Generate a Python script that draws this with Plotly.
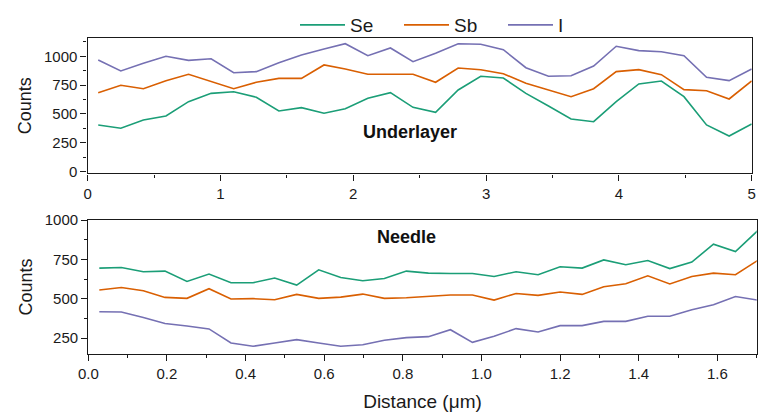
import plotly.graph_objects as go

# ---- data ----
top_x = [0.08, 0.25, 0.42, 0.59, 0.76, 0.93, 1.10, 1.27, 1.44, 1.61, 1.78, 1.94, 2.11, 2.28, 2.45,
         2.62, 2.79, 2.96, 3.13, 3.30, 3.47, 3.64, 3.81, 3.98, 4.15, 4.32, 4.49, 4.66, 4.83, 5.00]
top_se = [405, 376, 448, 483, 607, 679, 693, 645, 526, 555, 506, 546, 636, 685, 558,
          515, 708, 827, 812, 679, 569, 457, 433, 607, 760, 786, 650, 405, 309, 413]
top_sb = [685, 749, 719, 789, 844, 780, 719, 775, 809, 809, 925, 890, 844, 844, 844,
          775, 898, 884, 849, 766, 708, 650, 719, 867, 884, 841, 711, 702, 630, 786]
top_i = [968, 873, 939, 1000, 965, 979, 858, 867, 945, 1011, 1063, 1109, 1005, 1072, 953,
         1026, 1109, 1104, 1057, 901, 827, 832, 916, 1087, 1049, 1040, 1005, 818, 789, 890]

bot_x = [0.028, 0.084, 0.140, 0.195, 0.251, 0.307, 0.363, 0.419, 0.474, 0.530, 0.586, 0.642,
         0.698, 0.753, 0.809, 0.865, 0.921, 0.977, 1.032, 1.088, 1.144, 1.200, 1.256, 1.311,
         1.367, 1.423, 1.479, 1.535, 1.590, 1.646, 1.702]
bot_se = [695, 699, 672, 676, 610, 657, 602, 602, 632, 587, 684, 635, 615, 629, 676,
          663, 661, 661, 642, 672, 653, 703, 695, 747, 716, 743, 692, 733, 847, 800, 931]
bot_sb = [556, 572, 551, 509, 503, 564, 499, 501, 494, 528, 503, 511, 530, 503, 507,
          515, 524, 524, 492, 534, 522, 543, 528, 577, 596, 646, 594, 642, 663, 653, 743]
bot_i = [418, 416, 382, 344, 328, 309, 220, 199, 220, 241, 220, 199, 209, 237, 254,
         260, 304, 224, 262, 311, 290, 330, 330, 357, 357, 389, 389, 431, 463, 515, 492]

series_names = ["Se", "Sb", "I"]
colors = ["#1b9e77", "#d95f02", "#7570b3"]
top_ticks = [0, 1, 2, 3, 4, 5]
bot_ticks = [0.0, 0.2, 0.4, 0.6, 0.8, 1.0, 1.2, 1.4, 1.6]
y_ticks_top = [0, 250, 500, 750, 1000]
y_ticks_bot = [250, 500, 750, 1000]

FONT = "Liberation Sans, Arial, sans-serif"
W, H = 758, 415

fig = go.Figure()
for name, col, ys in zip(series_names, colors, [top_se, top_sb, top_i]):
    fig.add_trace(go.Scatter(x=top_x, y=ys, mode="lines", name=name,
                             line=dict(color=col, width=1.6), xaxis="x", yaxis="y"))
for name, col, ys in zip(series_names, colors, [bot_se, bot_sb, bot_i]):
    fig.add_trace(go.Scatter(x=bot_x, y=ys, mode="lines", name=name, showlegend=False,
                             line=dict(color=col, width=1.6), xaxis="x2", yaxis="y2"))

axis_common = dict(showline=True, linecolor="#1a1a1a", linewidth=1.4, mirror=True,
                   showgrid=False, zeroline=False, ticks="outside", ticklen=6, tickwidth=1.2,
                   tickcolor="#1a1a1a", tickfont=dict(family=FONT, size=15, color="#1a1a1a"),
                   automargin=False)

def px_x(p):
    return p / W

def px_y(p):
    return (H - p) / H

fig.update_layout(
    width=W, height=H,
    margin=dict(l=0, r=0, t=0, b=0),
    paper_bgcolor="white", plot_bgcolor="white",
    font=dict(family=FONT, color="#1a1a1a"),
    showlegend=True,
    legend=dict(orientation="h", x=px_x(295), xanchor="left", y=px_y(25), yanchor="middle",
                font=dict(family=FONT, size=19, color="#1a1a1a"),
                entrywidth=44, entrywidthmode="pixels", bgcolor="rgba(0,0,0,0)",
                itemwidth=45, tracegroupgap=0),
    xaxis=dict(axis_common, domain=[px_x(87.6), px_x(751.7)], range=[0, 5],
               tickvals=top_ticks, ticktext=[str(t) for t in top_ticks], anchor="y",
               minor=dict(dtick=0.5, tick0=0, ticks="outside", ticklen=3, tickwidth=1.2,
                          tickcolor="#1a1a1a")),
    yaxis=dict(axis_common, domain=[px_y(173.3), px_y(38.3)], range=[-14, 1156],
               tickvals=y_ticks_top, anchor="x",
               minor=dict(dtick=125, tick0=0, ticks="outside", ticklen=3, tickwidth=1.2,
                          tickcolor="#1a1a1a"),
               title=dict(text="Counts", font=dict(family=FONT, size=18, color="#1a1a1a"),
                          standoff=7)),
    xaxis2=dict(axis_common, domain=[px_x(88.3), px_x(756.7)], range=[0, 1.7],
                tickvals=bot_ticks, tickformat=".1f", anchor="y2",
                minor=dict(dtick=0.1, tick0=0, ticks="outside", ticklen=3, tickwidth=1.2,
                           tickcolor="#1a1a1a"),
                title=dict(text="Distance (μm)", font=dict(family=FONT, size=19, color="#1a1a1a"),
                           standoff=13)),
    yaxis2=dict(axis_common, domain=[px_y(354), px_y(220)], range=[150, 1000],
                tickvals=y_ticks_bot, anchor="x2",
                minor=dict(dtick=125, tick0=0, ticks="outside", ticklen=3, tickwidth=1.2,
                           tickcolor="#1a1a1a"),
                title=dict(text="Counts", font=dict(family=FONT, size=18, color="#1a1a1a"),
                           standoff=7)),
    annotations=[
        dict(text="<b>Underlayer</b>", xref="paper", yref="paper", x=px_x(409.5), y=px_y(131.5),
             xanchor="center", yanchor="middle", showarrow=False,
             font=dict(family=FONT, size=18, color="#111111")),
        dict(text="<b>Needle</b>", xref="paper", yref="paper", x=px_x(406), y=px_y(237),
             xanchor="center", yanchor="middle", showarrow=False,
             font=dict(family=FONT, size=18, color="#111111")),
    ],
)

fig.write_html("out.html")
